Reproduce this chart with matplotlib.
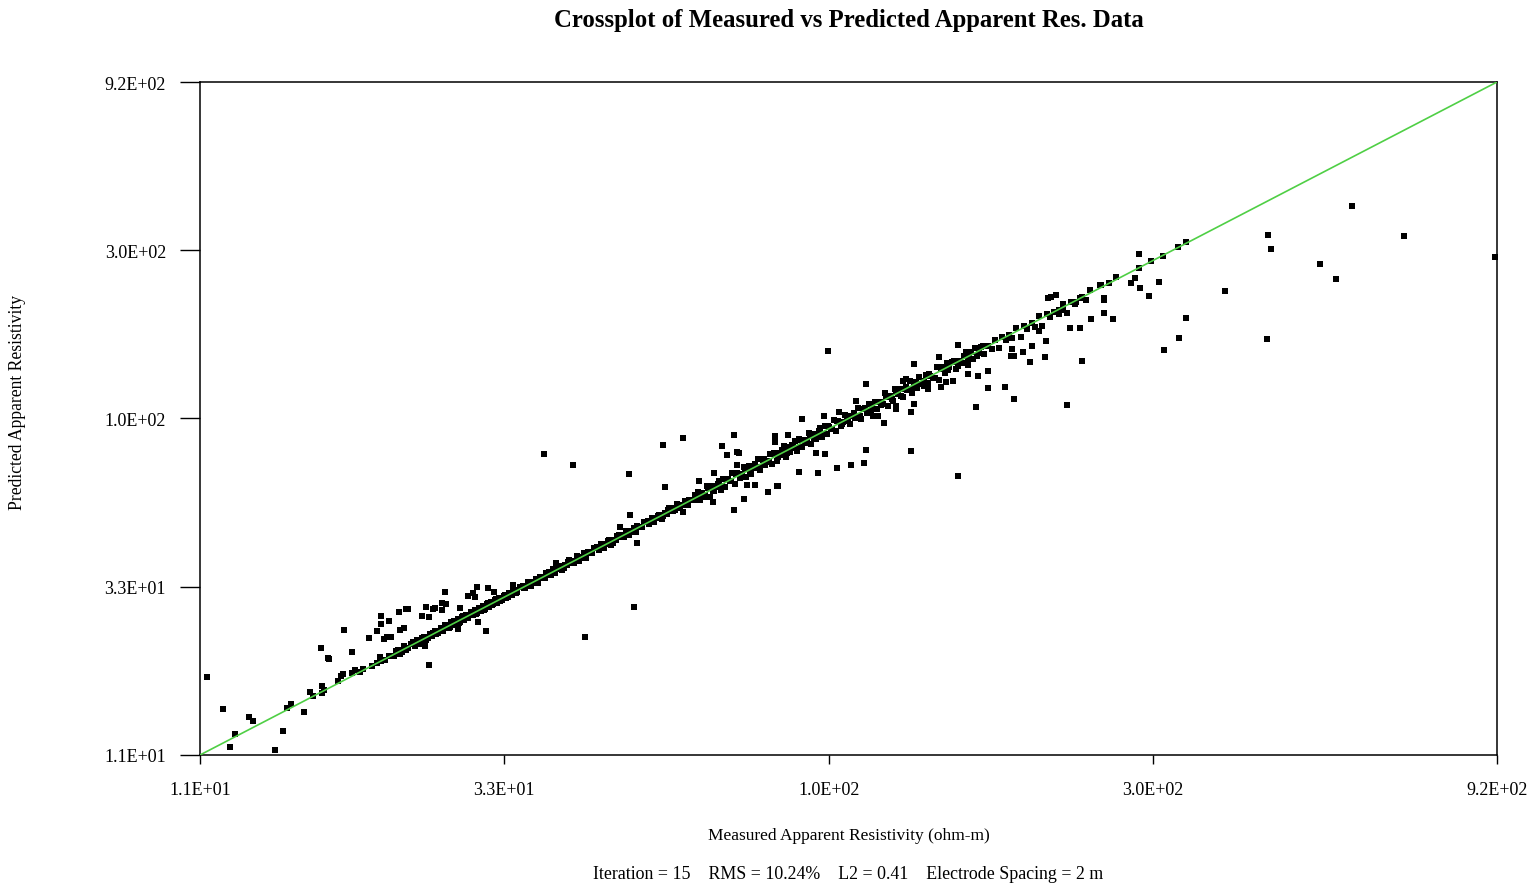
import matplotlib
matplotlib.use("Agg")
import matplotlib.pyplot as plt
from matplotlib.ticker import FixedLocator, FixedFormatter, NullLocator
import numpy as np

plt.rcParams["font.family"] = ["Liberation Serif", "DejaVu Serif"]

# ---------------------------------------------------------------- axes setup
AXIS_MIN, AXIS_MAX = 11.0, 920.0
x_tick_values = [11.0, 31.04, 94.12, 284.5, 920.0]
x_tick_labels = ["1.1E+01", "3.3E+01", "1.0E+02", "3.0E+02", "9.2E+02"]
y_tick_values = [11.0, 33.27, 100.6, 304.2, 920.0]
y_tick_labels = ["1.1E+01", "3.3E+01", "1.0E+02", "3.0E+02", "9.2E+02"]

# ---------------------------------------------------------------- data (ohm-m)
# readings lying close to the 1:1 line
band_low_meas = [21.3, 21.6, 21.9, 22.1, 22.4, 22.6, 22.9, 23.1, 23.3, 23.6,
                 23.8, 24.1, 24.3, 24.5, 24.8, 25.0, 25.2, 25.5, 25.7, 25.9,
                 26.1, 26.3, 26.5, 26.7, 26.9, 27.1, 27.3, 27.5, 27.7, 27.9,
                 28.1, 28.3, 28.5, 28.7, 28.9, 29.1, 29.3, 29.5, 29.7, 29.9,
                 30.1, 30.3, 30.5, 30.8, 31.0, 31.3, 31.6, 31.9, 32.2, 32.5,
                 32.8,
                 21.45, 21.75, 22.25, 22.75, 23.2, 23.45, 23.95, 24.4, 24.65, 25.1,
                 25.35, 25.8, 26.2, 26.6, 27.0, 27.4, 27.8, 28.2, 28.6, 29.0,
                 29.4, 29.8, 30.2, 30.65, 31.15, 31.45, 32.05, 32.35]
band_low_pred = [21.1, 21.9, 21.6, 22.5, 22.2, 22.9, 22.6, 23.5, 23.0, 23.9,
                 23.5, 24.4, 24.0, 24.9, 24.5, 25.4, 24.9, 25.8, 25.3, 26.3,
                 26.4, 25.9, 26.9, 26.4, 27.3, 26.8, 27.7, 27.1, 28.1, 27.6,
                 28.5, 27.9, 28.9, 28.4, 29.3, 28.8, 29.7, 29.1, 30.1, 29.6,
                 30.5, 29.9, 30.9, 30.4, 31.4, 30.9, 32.0, 31.5, 32.6, 32.1,
                 33.2,
                 21.8, 21.4, 22.0, 23.1, 22.9, 23.8, 23.7, 24.6, 24.3, 25.0,
                 25.8, 25.5, 26.6, 26.2, 27.4, 27.0, 28.2, 27.8, 29.0, 28.6,
                 29.8, 29.5, 30.6, 30.3, 31.6, 31.0, 32.5, 32.0]

band_mid_meas = [33.1, 33.4, 33.7, 34.0, 34.3, 34.6, 34.9, 35.2, 35.5, 35.8,
                 36.1, 36.4, 36.7, 37.0, 37.3, 37.6, 37.9, 38.2, 38.5, 38.8,
                 39.1, 39.4, 39.8, 40.1, 40.4, 40.8, 41.1, 41.5, 41.8, 42.2,
                 42.5, 42.9, 43.3, 43.6, 44.0, 44.4, 44.8, 45.1, 45.5, 45.9,
                 46.3, 46.7, 47.1, 47.5, 47.9, 48.3, 48.7, 49.2, 49.6, 50.0,
                 50.5, 50.9, 51.4, 51.8, 52.3, 52.7, 53.2, 53.7, 54.1, 54.6,
                 55.1, 55.6, 56.1, 56.6, 57.1, 57.6, 58.1, 58.6, 59.1, 59.6,
                 33.25, 33.85, 34.45, 35.05, 35.65, 36.25, 36.85, 37.45, 38.05, 38.65,
                 39.25, 39.95, 40.6, 41.3, 41.95, 42.7, 43.45, 44.2, 45.0, 45.7,
                 46.5, 47.3, 48.1, 48.9, 49.8, 50.7, 51.6, 52.5, 53.45, 54.35,
                 55.35, 56.35, 57.35, 58.35, 59.35]
band_mid_pred = [33.4, 33.1, 34.4, 33.5, 34.3, 35.1, 34.2, 35.4, 35.3, 36.5,
                 36.5, 36.0, 37.4, 36.4, 37.3, 38.2, 37.1, 38.4, 38.3, 39.6,
                 39.5, 39.0, 40.6, 39.5, 40.4, 41.4, 40.3, 41.7, 41.6, 43.0,
                 42.9, 42.5, 44.2, 42.9, 44.0, 45.1, 43.9, 45.3, 45.3, 46.8,
                 46.8, 46.2, 48.0, 46.8, 47.9, 49.0, 47.7, 49.4, 49.4, 51.0,
                 51.0, 50.4, 52.4, 51.0, 52.3, 53.5, 52.1, 54.0, 53.8, 55.7,
                 55.7, 55.0, 57.2, 55.8, 57.1, 58.5, 56.9, 58.9, 58.8, 60.8,
                 33.0, 34.2, 34.1, 35.5, 35.3, 36.7, 36.5, 37.9, 37.7, 39.1,
                 38.9, 40.5, 40.2, 41.8, 41.5, 43.2, 43.0, 44.8, 44.5, 46.3,
                 46.0, 47.9, 47.6, 49.5, 49.3, 51.3, 51.1, 53.1, 52.9, 55.0,
                 54.8, 57.0, 56.8, 59.0, 58.8]

band_upper_meas = [60.1, 60.6, 61.1, 61.6, 62.1, 62.6, 63.1, 63.6, 64.1, 64.6,
                   65.1, 65.6, 66.1, 66.7, 67.2, 67.7, 68.3, 68.8, 69.4, 69.9,
                   70.5, 71.0, 71.6, 72.2, 72.7, 73.3, 73.9, 74.5, 75.1, 75.7,
                   76.3, 76.9, 77.5, 78.1, 78.7, 79.3, 80.0, 80.6, 81.2, 81.9,
                   82.5, 83.2, 83.8, 84.5, 85.1, 85.8, 86.5, 87.2, 87.8, 88.5,
                   89.2, 89.9, 90.6, 91.3, 92.0, 92.7, 93.4, 94.2, 94.9, 95.6,
                   96.4, 97.1, 97.9, 98.6, 99.4,
                   60.35, 61.35, 62.35, 63.35, 64.35, 65.35, 66.4, 67.45, 68.55, 69.65,
                   70.75, 71.9, 73.0, 74.2, 75.4, 76.6, 77.8, 79.0, 80.3, 81.55,
                   82.85, 84.15, 85.45, 86.85, 88.15, 89.55, 90.95, 92.35, 93.8, 95.25,
                   96.75, 98.25]
band_upper_pred = [61.9, 58.8, 61.7, 61.0, 64.6, 60.1, 64.4, 62.3, 64.1, 66.9,
                   62.8, 67.6, 64.1, 67.4, 66.5, 70.4, 65.6, 70.2, 68.0, 69.9,
                   73.0, 68.5, 73.7, 70.0, 73.4, 72.6, 76.9, 71.5, 76.6, 74.2,
                   76.3, 79.6, 74.8, 80.4, 76.3, 80.1, 79.2, 83.8, 78.0, 83.5,
                   80.9, 83.2, 86.7, 81.5, 87.7, 83.2, 87.4, 86.3, 91.3, 85.0,
                   91.0, 88.1, 90.6, 94.5, 88.8, 95.5, 90.6, 95.1, 94.0, 99.4,
                   92.5, 99.0, 95.9, 98.6, 102.9,
                   61.2, 60.0, 63.5, 62.5, 65.6, 64.6, 67.7, 66.5, 69.9, 68.7,
                   72.2, 70.9, 74.5, 73.1, 76.9, 75.5, 79.4, 78.0, 81.9, 80.4,
                   84.5, 83.0, 87.2, 85.6, 89.9, 88.4, 92.8, 91.1, 95.7, 94.1,
                   98.7, 97.0]

band_high_meas = [100, 101, 102, 103, 104, 105, 106, 107, 108, 109,
                  110, 111, 112, 113, 114, 115, 116, 117, 118, 119,
                  120, 121, 122, 123, 124, 125, 126, 127, 128, 130,
                  131, 132, 133, 134, 136, 137, 138, 140, 141, 142,
                  144, 145, 147, 148, 150, 151, 152, 154, 155, 157,
                  158, 160,
                  100.5, 102.5, 104.5, 106.5, 108.5, 110.5, 112.5, 114.5, 116.5, 118.5,
                  120.5, 122.5, 124.5, 126.5, 129, 132.5, 135, 139, 141.5, 143,
                  146, 149, 151.5, 153, 156, 159]
band_high_pred = [102, 97, 102, 101, 108, 100, 107, 104, 111, 108,
                  112, 107, 112, 111, 119, 109, 117, 113, 122, 118,
                  122, 116, 122, 121, 129, 119, 127, 123, 132, 129,
                  134, 127, 133, 131, 141, 130, 139, 136, 145, 141,
                  147, 139, 147, 145, 156, 143, 154, 149, 160, 155,
                  161, 154,
                  99, 104, 102, 108, 106, 112, 110, 116, 114, 120,
                  117, 124, 122, 128, 126, 135, 131, 141, 138, 146,
                  142, 152, 148, 156, 152, 162]

band_top_meas = [162, 164, 166, 168, 170, 172, 174, 176, 178, 181,
                 183, 185, 188, 190, 193, 195, 198, 200, 203, 206,
                 209, 212, 215, 218, 222, 226, 229,
                 206, 209, 219, 223, 237, 238, 245, 251, 271, 282,
                 294, 310, 318]
band_top_pred = [162, 159, 169, 160, 172, 169, 174, 171, 182, 172,
                 185, 181, 188, 184, 197, 185, 200, 196, 203, 200,
                 213, 201, 217, 214, 222, 219, 234,
                 206, 206, 217, 223, 242, 242, 245, 255, 270, 284,
                 292, 311, 322]

# readings departing from the 1:1 line
off_low_meas = [11.25, 11.9, 12.2, 12.4, 13.0, 13.2, 14.2, 14.6, 14.8, 15.0,
                15.7, 16.0, 16.2, 16.6, 16.7, 16.8, 16.7, 17.0, 17.1, 17.6,
                17.8, 17.9, 18.0, 18.5, 18.5, 18.7, 19.0, 19.2, 19.6, 19.8,
                20.1, 20.3, 20.4, 20.7, 21.0, 20.1, 20.4, 20.4, 20.6, 20.8,
                21.1, 21.0, 21.7, 21.8, 22.1, 22.2, 22.4, 23.5, 24.0, 23.8,
                23.7, 24.0, 24.4, 24.5, 25.1, 25.5, 25.4, 25.1, 26.5, 26.7,
                27.5, 27.9, 28.1, 28.3, 28.4, 29.2, 29.4, 30.0, 32.0]
off_low_pred = [18.4, 14.9, 11.6, 12.6, 14.1, 13.8, 11.4, 12.9, 15.0, 15.4,
                14.6, 16.7, 16.2, 22.2, 17.3, 16.9, 16.5, 20.8, 20.7, 17.9,
                18.5, 18.7, 25.1, 21.6, 18.9, 19.2, 19.0, 19.4, 23.7, 19.8,
                20.1, 20.9, 20.4, 20.6, 21.1, 24.9, 27.5, 26.0, 23.6, 23.9,
                23.9, 26.5, 28.1, 25.1, 25.3, 28.7, 28.8, 27.5, 27.3, 29.2,
                22.6, 19.9, 28.7, 28.9, 29.8, 29.7, 32.1, 28.6, 25.2, 28.9,
                31.4, 31.9, 31.0, 33.2, 26.3, 24.9, 33.0, 32.1, 33.6]

off_mid_meas = [35.6, 39.3, 47.6, 53.4, 57.1, 53.7, 63.5, 60.3, 47.8, 48.9,
                48.4, 40.9, 46.1, 37.1, 57.2, 63.4,
                93.8, 106.9, 125.6, 137, 146, 68.0, 65.3, 66.5, 69.2, 68.8,
                73.0, 76.4, 78.9, 70.4, 68.0, 78.2, 78.2, 78.2, 81.8, 85.8,
                92.5, 97.3, 103.3, 84.9, 90.5, 89.9, 93.0, 96.7, 101.4, 106,
                106.9, 113.7, 124.6, 124.6, 125.6, 118.2, 118.2, 138, 140.5, 143.7,
                146.1, 71.1, 79.0, 68.7, 109.4, 111.2, 121.1, 122.5, 130.3, 132]
off_mid_pred = [79.8, 74.0, 69.9, 84.4, 88.4, 63.9, 70.1, 66.5, 53.3, 44.5,
                29.2, 23.9, 49.2, 38.9, 54.3, 57.9,
                157, 126, 143.9, 151, 163, 90.2, 84.1, 79.1, 80.1, 74.0,
                64.9, 62.1, 64.5, 59.2, 55.2, 89.8, 87.8, 86.0, 90.2, 100.2,
                102, 104.7, 113, 70.9, 70.1, 80.1, 79.6, 72.5, 74.0, 74.9,
                81.7, 97.8, 81.0, 104.7, 110.4, 107, 109, 123.4, 127.6, 128.9,
                69.0, 64.9, 64.6, 80.8, 102.4, 102, 128.9, 130.3, 124.7, 122]

off_high_meas = [151.2, 156.5, 161.9, 155.4, 162.2, 171.6, 177, 175.1, 177, 175.5,
                 182.7, 187.2, 188.5, 196.7, 197.1, 192.6, 212, 214.5, 221.3, 222.9,
                 230, 240.2, 240.2, 240.2, 248, 264, 267, 271.7, 280.4, 271,
                 290, 295.5, 310.6, 199, 201, 204,
                 561.8, 669.2, 915, 420.8, 425.6, 503, 531.4, 419.3, 363.4, 317.8]
off_high_pred = [134.5, 133.3, 137.2, 108.6, 122.7, 123.4, 114.3, 151.9, 151.6, 158.7,
                 156, 146.1, 161.6, 151, 167.3, 179, 110.1, 182.3, 182.3, 146.7,
                 193.4, 221.5, 219, 200.8, 193.4, 244.5, 252.7, 236.6, 225.5, 296.6,
                 247, 158, 170.6, 222, 224, 226,
                 407, 333.7, 291.3, 336.6, 307, 277.6, 251.6, 169.2, 232.5, 194.3]

measured = np.concatenate([band_low_meas, band_mid_meas, band_upper_meas,
                           band_high_meas, band_top_meas,
                           off_low_meas, off_mid_meas, off_high_meas])
predicted = np.concatenate([band_low_pred, band_mid_pred, band_upper_pred,
                            band_high_pred, band_top_pred,
                            off_low_pred, off_mid_pred, off_high_pred])

# ---------------------------------------------------------------- figure
W, H = 1535, 887
fig = plt.figure(figsize=(W / 100, H / 100), dpi=100)
ax = fig.add_axes([200 / W, 131 / H, 1297 / W, 673 / H])

ax.set_xscale("log")
ax.set_yscale("log")
ax.set_xlim(AXIS_MIN, AXIS_MAX)
ax.set_ylim(AXIS_MIN, AXIS_MAX)

ax.scatter(measured, predicted, marker="s", s=14, c="black",
           linewidths=0, zorder=2, clip_on=False)
ax.plot([AXIS_MIN, AXIS_MAX], [AXIS_MIN, AXIS_MAX],
        color="#4fcf45", lw=1.2, zorder=3)

for sp in ax.spines.values():
    sp.set_linewidth(1.1)
    sp.set_color("black")

ax.xaxis.set_major_locator(FixedLocator(x_tick_values))
ax.xaxis.set_major_formatter(FixedFormatter(x_tick_labels))
ax.yaxis.set_major_locator(FixedLocator(y_tick_values))
ax.yaxis.set_major_formatter(FixedFormatter(y_tick_labels))
ax.xaxis.set_minor_locator(NullLocator())
ax.yaxis.set_minor_locator(NullLocator())

ax.tick_params(axis="x", direction="out", length=6.5, width=1.0,
               pad=12, labelsize=13)
ax.tick_params(axis="y", direction="out", length=14.4, width=1.0,
               pad=10, labelsize=13)

fig.text(848.5 / W, 1 - 20 / H,
         "Crossplot of Measured vs Predicted Apparent Res. Data",
         ha="center", va="center", fontsize=17.8, fontweight="bold")
fig.text(848.5 / W, 1 - 836 / H, "Measured Apparent Resistivity (ohm-m)",
         ha="center", va="center", fontsize=12.5)
fig.text(848.5 / W, 1 - 875 / H,
         "Iteration = 15    RMS = 10.24%    L2 = 0.41    Electrode Spacing = 2 m",
         ha="center", va="center", fontsize=12.9)
fig.text(18 / W, 1 - 402 / H, "Predicted Apparent Resistivity",
         ha="center", va="center", rotation=90, fontsize=12.7)

fig.savefig("out.png", dpi=100, facecolor="white")
